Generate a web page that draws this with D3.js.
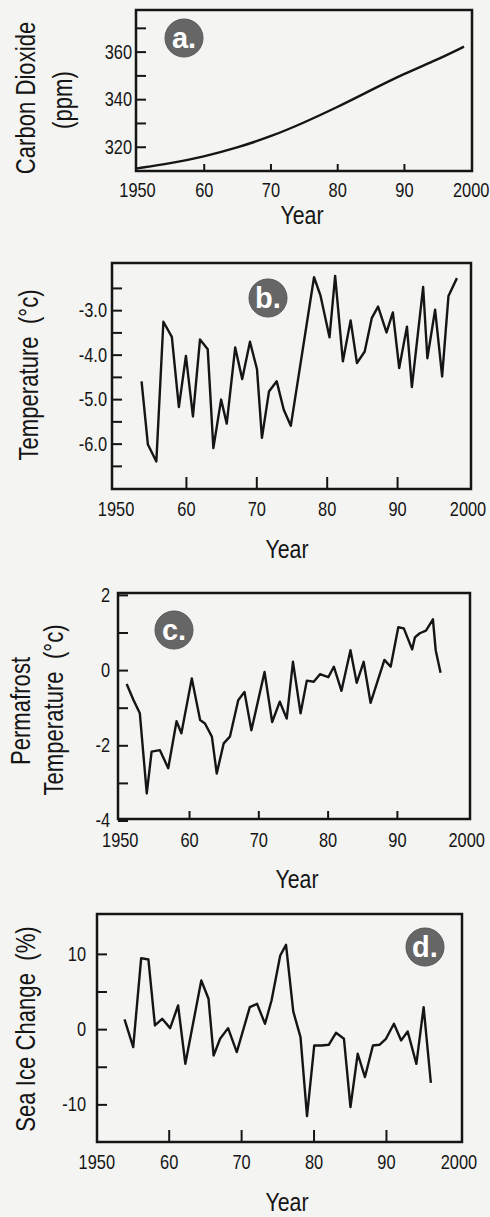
<!DOCTYPE html>
<html>
<head>
<meta charset="utf-8">
<script src="https://cdn.jsdelivr.net/npm/d3@7"></script>
<style>
  body { margin: 0; background: #f4f4f2; }
  svg text { font-family: "Liberation Sans Narrow", "Arial Narrow", "Liberation Sans", Arial, sans-serif; fill: #151515; }
  .badge text { font-family: "Liberation Sans", Arial, sans-serif; font-weight: bold; fill: #fff; }
</style>
</head>
<body>
<div id="chart"></div>
<script>
// x axis, shared by all four panels
var yearTicks = [1950, 1960, 1970, 1980, 1990, 2000];
var yearTickLabels = ["1950", "60", "70", "80", "90", "2000"];
var yearMarks = [1960, 1970, 1980, 1990];

// a. carbon dioxide (ppm)
var co2Years = [1950, 1955, 1960, 1965, 1970, 1975, 1980, 1985, 1990, 1995, 1999];
var co2Values = [310.9, 313.0, 315.8, 319.6, 324.2, 330.1, 336.6, 343.7, 350.7, 356.6, 362.1];
var co2Marks = [320, 330, 340, 350, 360, 370];
var co2Labels = [320, 340, 360];

// b. temperature (oc)
var tempYears = [1953.7, 1954.6, 1955.8, 1956.8, 1958.0, 1959.0, 1960.0, 1961.0, 1962.0, 1963.1, 1963.9,
  1965.0, 1965.8, 1967.0, 1968.0, 1969.1, 1970.1, 1970.8, 1971.8, 1972.9, 1973.9, 1974.9, 1978.2,
  1979.1, 1980.4, 1981.2, 1982.3, 1983.4, 1984.3, 1985.4, 1986.4, 1987.3, 1988.5, 1989.4, 1990.3,
  1991.4, 1992.1, 1993.7, 1994.3, 1995.4, 1996.4, 1997.3, 1998.5];
var tempValues = [-4.60, -6.02, -6.40, -3.26, -3.60, -5.18, -4.03, -5.39, -3.66, -3.88, -6.10,
  -5.01, -5.55, -3.84, -4.55, -3.71, -4.33, -5.87, -4.83, -4.60, -5.24, -5.60, -2.26,
  -2.66, -3.61, -2.23, -4.15, -3.23, -4.19, -3.93, -3.18, -2.92, -3.50, -3.05, -4.30,
  -3.37, -4.73, -2.48, -4.08, -2.99, -4.49, -2.68, -2.28];
var tempMarks = [-2.5, -3.0, -3.5, -4.0, -4.5, -5.0, -5.5, -6.0, -6.5];
var tempLabels = [-3.0, -4.0, -5.0, -6.0];

// c. permafrost temperature (oc)
var permYears = [1951.0, 1952.0, 1952.9, 1953.9, 1954.6, 1955.8, 1957.0, 1958.2, 1958.9, 1960.4, 1961.6,
  1962.3, 1963.3, 1964.0, 1965.0, 1965.9, 1967.1, 1968.0, 1969.0, 1970.9, 1972.0, 1973.1, 1974.1,
  1975.0, 1976.1, 1977.0, 1978.0, 1978.9, 1980.1, 1980.9, 1982.0, 1983.3, 1984.2, 1985.2, 1986.2,
  1988.2, 1989.1, 1990.2, 1991.0, 1992.2, 1992.6, 1993.3, 1994.2, 1995.2, 1995.6, 1996.3];
var permValues = [-0.37, -0.80, -1.15, -3.28, -2.17, -2.13, -2.61, -1.36, -1.68, -0.22, -1.33,
  -1.42, -1.77, -2.75, -1.95, -1.77, -0.80, -0.58, -1.60, -0.05, -1.38, -0.84, -1.29,
  0.22, -1.15, -0.28, -0.31, -0.11, -0.19, 0.09, -0.55, 0.53, -0.34, 0.22, -0.87,
  0.27, 0.09, 1.14, 1.11, 0.55, 0.87, 0.98, 1.05, 1.35, 0.53, -0.07];
var permMarks = [2, 1, 0, -1, -2, -3, -4];
var permLabels = [2, 0, -2, -4];

// d. sea ice change (%)
var iceYears = [1953.9, 1955.1, 1956.2, 1957.2, 1958.1, 1959.1, 1960.2, 1961.3, 1962.3, 1964.5, 1965.5,
  1966.2, 1967.1, 1968.2, 1969.4, 1971.2, 1972.2, 1973.3, 1974.2, 1975.4, 1976.2, 1977.2, 1978.2,
  1979.1, 1980.1, 1981.1, 1982.1, 1983.1, 1984.2, 1985.1, 1986.1, 1987.1, 1988.2, 1989.1, 1990.0,
  1991.1, 1992.1, 1993.0, 1994.2, 1995.2, 1996.2];
var iceValues = [1.29, -2.39, 9.43, 9.25, 0.49, 1.37, 0.13, 3.14, -4.61, 6.47, 4.03,
  -3.50, -1.28, 0.13, -3.05, 2.92, 3.36, 0.71, 3.81, 9.78, 11.2, 2.35, -1.06,
  -11.55, -2.17, -2.17, -2.08, -0.49, -1.28, -10.36, -3.27, -6.37, -2.17, -2.08, -1.28,
  0.71, -1.50, -0.31, -4.61, 2.92, -7.13];
var iceMarks = [10, 5, 0, -5, -10];
var iceLabels = [10, 0, -10];

var W = 490, H = 1217;
var squeeze = 0.82;   // no narrow face installed, so squash the regular one

var svg = d3.select("#chart").append("svg")
  .attr("width", W)
  .attr("height", H);

// squash axis texts horizontally around their own anchor
function narrowAxisText(sel) {
  sel.selectAll("text").each(function() {
    var t = d3.select(this);
    var xx = +t.attr("x") || 0;
    t.attr("x", 0)
      .attr("transform", "translate(" + xx + ",0) scale(" + squeeze + ",1)")
      .style("font-size", "20px")
      .attr("fill", "#151515");
  });
}

function drawPanel(p) {
  var g = svg.append("g");

  var x = d3.scaleLinear().domain(p.xDomain).range([p.left, p.right]);
  var y = d3.scaleLinear().domain(p.yDomain).range([p.bottom, p.top]);

  // y ticks point inward, labels only on the major ones
  var yAxis = d3.axisLeft(y)
    .tickValues(p.yMarks)
    .tickSizeInner(-10)
    .tickSizeOuter(0)
    .tickPadding(p.yGap)
    .tickFormat(function(d) {
      return p.yLabels.indexOf(d) >= 0 ? p.yFormat(d).replace("\u2212", "-") : "";
    });

  var ya = g.append("g")
    .attr("transform", "translate(" + p.left + ",0)")
    .call(yAxis);
  ya.select(".domain").remove();
  ya.selectAll("line").attr("stroke", "#151515").attr("stroke-width", 2);
  narrowAxisText(ya);

  // x tick marks inside the frame
  var xMarks = d3.axisBottom(x)
    .tickValues(yearMarks)
    .tickSizeInner(-p.xTick)
    .tickSizeOuter(0)
    .tickFormat("");
  var xm = g.append("g")
    .attr("transform", "translate(0," + p.bottom + ")")
    .call(xMarks);
  xm.select(".domain").remove();
  xm.selectAll("line").attr("stroke", "#151515").attr("stroke-width", 2);

  // x labels
  var xLabels = d3.axisBottom(x)
    .tickValues(yearTicks)
    .tickSize(0)
    .tickPadding(p.xGap)
    .tickFormat(function(d, i) { return yearTickLabels[i]; });
  var xl = g.append("g")
    .attr("transform", "translate(0," + p.bottom + ")")
    .call(xLabels);
  xl.select(".domain").remove();
  narrowAxisText(xl);

  // frame
  g.append("rect")
    .attr("x", p.left)
    .attr("y", p.top)
    .attr("width", p.right - p.left)
    .attr("height", p.bottom - p.top)
    .attr("fill", "none")
    .attr("stroke", "#151515")
    .attr("stroke-width", 2.5);

  var line = d3.line()
    .x(function(d) { return x(d[0]); })
    .y(function(d) { return y(d[1]); })
    .curve(p.curve || d3.curveLinear);

  g.append("path")
    .datum(d3.zip(p.years, p.values))
    .attr("d", line)
    .attr("fill", "none")
    .attr("stroke", "#151515")
    .attr("stroke-width", 2.4)
    .attr("stroke-linejoin", "round");

  g.append("text")
    .attr("transform", "translate(" + p.yearPos[0] + "," + p.yearPos[1] + ") scale(" + squeeze + ",1)")
    .attr("text-anchor", "middle")
    .style("font-size", "26px")
    .text("Year");

  p.titles.forEach(function(t) {
    g.append("text")
      .attr("transform", "translate(" + t[1] + "," + t[2] + ") rotate(-90) scale(" + squeeze + ",1)")
      .attr("text-anchor", "middle")
      .attr("dy", "0.36em")
      .style("font-size", "27px")
      .text(t[0]);
  });

  var badge = g.append("g")
    .attr("class", "badge")
    .attr("transform", "translate(" + p.badge[0] + "," + p.badge[1] + ")");
  badge.append("circle")
    .attr("r", 19)
    .attr("fill", "#666")
    .attr("stroke", "#555")
    .attr("stroke-width", 1);
  badge.append("text")
    .attr("text-anchor", "middle")
    .attr("dy", "0.36em")
    .style("font-size", "29px")
    .text(p.letter);
}

drawPanel({
  left: 136, right: 472, top: 10, bottom: 171,
  xDomain: [1949.85, 2000.2], yDomain: [309.8, 377.5],
  years: co2Years, values: co2Values, curve: d3.curveBasis,
  yMarks: co2Marks, yLabels: co2Labels, yFormat: d3.format("d"), yGap: 4,
  xTick: 7, xGap: 12,
  yearPos: [302, 224],
  titles: [["Carbon Dioxide", 25, 98], ["(ppm)", 62, 100]],
  badge: [184, 38], letter: "a."
});

drawPanel({
  left: 112, right: 471, top: 263, bottom: 489,
  xDomain: [1949.5, 2000.5], yDomain: [-7.02, -1.94],
  years: tempYears, values: tempValues,
  yMarks: tempMarks, yLabels: tempLabels, yFormat: d3.format(".1f"), yGap: 5,
  xTick: 12, xGap: 13,
  yearPos: [287, 558],
  titles: [["Temperature \u00a0(\u00b0c)", 28, 375]],
  badge: [268, 298], letter: "b."
});

drawPanel({
  left: 118, right: 470, top: 593, bottom: 819,
  xDomain: [1949.75, 2000.55], yDomain: [-3.96, 2.05],
  years: permYears, values: permValues,
  yMarks: permMarks, yLabels: permLabels, yFormat: d3.format("d"), yGap: 8,
  xTick: 8, xGap: 14,
  yearPos: [297, 888],
  titles: [["Permafrost", 20, 711], ["Temperature \u00a0(\u00b0c)", 53, 710]],
  badge: [174, 630], letter: "c."
});

drawPanel({
  left: 97, right: 462, top: 914, bottom: 1142,
  xDomain: [1950.1, 2000.5], yDomain: [-15.0, 15.3],
  years: iceYears, values: iceValues,
  yMarks: iceMarks, yLabels: iceLabels, yFormat: d3.format("d"), yGap: 11,
  xTick: 12, xGap: 13,
  yearPos: [287, 1211],
  titles: [["Sea Ice Change \u00a0(%)", 25, 1029]],
  badge: [425, 947], letter: "d."
});
</script>
</body>
</html>
